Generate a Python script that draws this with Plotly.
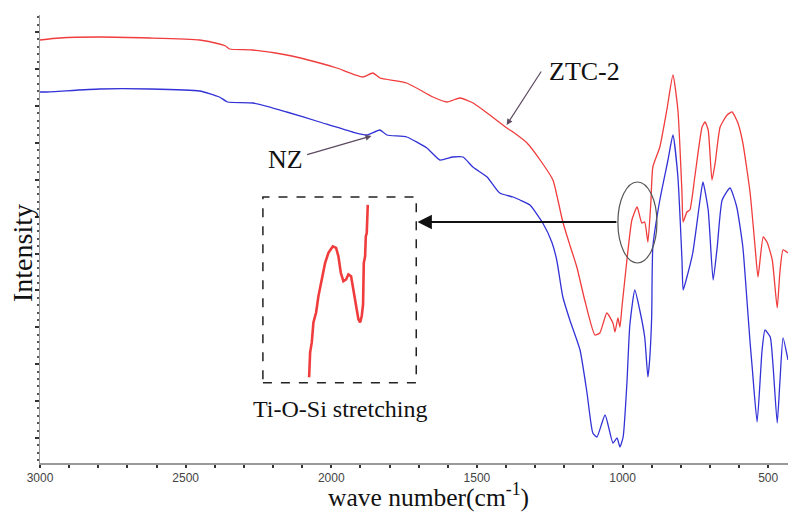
import plotly.graph_objects as go

# ---------------- data ----------------
# ZTC-2 (red) : wave number (cm-1) and intensity (a.u.)
ztc_wn = [3000, 2933, 2795, 2623, 2452, 2384, 2363, 2349, 2269, 2153, 2040, 1981, 1892,
          1857, 1833, 1741, 1651, 1603, 1558, 1513, 1465, 1397, 1376, 1328, 1283, 1239,
          1222, 1205, 1181, 1157, 1130, 1095, 1078, 1054, 1033, 1026, 1016, 1009, 1002,
          985, 968, 950, 934, 924, 913, 903, 896, 872, 848, 827, 810, 796, 792, 779,
          769, 752, 727, 717, 706, 693, 682, 665, 641, 624, 604, 587, 562, 545, 535,
          517, 504, 486, 469, 460, 449, 432]
ztc_int = [423, 425, 426, 425, 423, 419, 417, 414, 413, 408, 400, 395, 386,
           390, 385, 380, 366, 361, 365, 360, 350, 335, 331, 320, 303, 283,
           263, 241, 218, 196, 163, 128, 130, 150, 140, 131, 145, 136, 156,
           203, 243, 256, 240, 241, 221, 260, 296, 316, 353, 388, 353, 270, 241, 251,
           253, 286, 336, 341, 333, 283, 300, 336, 348, 351, 340, 320, 270, 216, 186,
           226, 221, 203, 155, 190, 213, 210]

# NZ (blue)
nz_wn = [3000, 2978, 2795, 2623, 2452, 2384, 2356, 2269, 2153, 2040, 1927, 1878, 1833,
         1809, 1741, 1672, 1627, 1583, 1548, 1514, 1465, 1422, 1376, 1352, 1318, 1274,
         1243, 1226, 1205, 1181, 1146, 1122, 1102, 1088, 1060, 1033, 1019, 1009, 998,
         985, 975, 958, 941, 924, 913, 907, 900, 896, 872, 844, 827, 810, 796, 792,
         779, 759, 734, 724, 706, 689, 675, 658, 631, 608, 587, 573, 562, 555, 538,
         521, 511, 493, 483, 469, 460, 449, 432]
nz_int = [371, 371, 374, 374, 372, 366, 361, 360, 351, 341, 331, 328, 333,
          328, 326, 315, 303, 306, 306, 296, 286, 270, 266, 263, 258, 240,
          221, 203, 166, 143, 113, 70, 30, 26, 48, 20, 25, 16, 26,
          80, 138, 173, 153, 126, 86, 103, 146, 216, 263, 303, 328, 286, 203, 173,
          186, 210, 263, 281, 253, 183, 216, 263, 275, 256, 216, 163, 120, 96, 41,
          113, 133, 126, 96, 40, 80, 125, 103]

# Inset: magnified Ti-O-Si band of ZTC-2
inset_wn = [987.5, 986, 983.6, 981.2, 977.3, 973.9, 969, 964.1, 959.3, 952.9, 948.1,
            944.7, 941.2, 937.4, 933.5, 930.1, 926.2, 922.8, 918.9, 915.5, 913, 910.6,
            908.7, 907.6, 905.7, 904.7, 903.3, 901.8]
inset_int = [195.6, 207.1, 211.7, 220.9, 225.5, 233.1, 240.8, 248.5, 253.1, 256.1, 255.4,
             251.5, 243.9, 240, 240.8, 243.1, 242.3, 236.2, 230.1, 222.4, 220.9, 223.9,
             229.3, 248.5, 251.5, 260.7, 262.3, 275.3]

x_ticks = [3000, 2500, 2000, 1500, 1000, 500]

SERIF = "Liberation Serif, Times New Roman, serif"
SANS = "Liberation Sans, Arial, sans-serif"
RED = "rgb(240,60,60)"
BLUE = "rgb(50,50,215)"

fig = go.Figure()
fig.add_trace(go.Scatter(x=ztc_wn, y=ztc_int, mode="lines", name="ZTC-2",
                         line=dict(color=RED, width=1.3, shape="spline", smoothing=0.5)))
fig.add_trace(go.Scatter(x=nz_wn, y=nz_int, mode="lines", name="NZ",
                         line=dict(color=BLUE, width=1.3, shape="spline", smoothing=0.5)))
fig.add_trace(go.Scatter(x=inset_wn, y=inset_int, mode="lines", xaxis="x2", yaxis="y2",
                         line=dict(color=RED, width=2.6), showlegend=False))

fig.update_layout(
    width=788, height=512,
    margin=dict(l=40, r=0, t=15, b=49),
    paper_bgcolor="white", plot_bgcolor="white",
    showlegend=False,
    xaxis=dict(range=[3000, 432], tickvals=x_ticks, showgrid=False, zeroline=False,
               showline=True, linecolor="#9a9a9a", linewidth=1.5,
               ticks="outside", ticklen=3, tickwidth=2, tickcolor="#333",
               minor=dict(dtick=100, ticks="outside", ticklen=3, tickwidth=2, tickcolor="#333"),
               tickfont=dict(family=SANS, size=12, color="#444")),
    yaxis=dict(range=[0, 448], showticklabels=False, showgrid=False, zeroline=False,
               showline=True, linecolor="#9a9a9a", linewidth=1,
               tick0=25, dtick=36.9, ticks="outside", ticklen=4, tickwidth=1.5, tickcolor="#333",
               minor=dict(tick0=25, dtick=7.38, ticks="outside", ticklen=2, tickwidth=1.5,
                          tickcolor="#555")),
    xaxis2=dict(domain=[0.298, 0.503], range=[1055, 831], visible=False, anchor="y2"),
    yaxis2=dict(domain=[0.179, 0.594], range=[193, 279], visible=False, anchor="x2"),
)

# dashed inset frame
fig.add_shape(type="rect", xref="paper", yref="paper", x0=0.298, x1=0.503, y0=0.179, y1=0.594,
              line=dict(color="#222", width=1.5, dash="dash"), fillcolor="rgba(0,0,0,0)")
# ellipse around the band
fig.add_shape(type="circle", xref="x", yref="y", x0=1016, x1=882, y0=200, y1=281,
              line=dict(color="#555", width=1.2))


def px_x(p):
    return (p - 40) / 748


def px_y(p):
    return (463 - p) / 448


ann = []
# big arrow from band to inset
ann.append(dict(x=1704, y=241, xref="x", yref="y", ax=1016, ay=241, axref="x", ayref="y",
                showarrow=True, arrowhead=2, arrowsize=1.6, arrowwidth=1.8, arrowcolor="#111",
                text=""))
# series label arrows
ann.append(dict(x=1398, y=338, xref="x", yref="y", ax=1276, ay=393, axref="x", ayref="y",
                showarrow=True, arrowhead=2, arrowsize=1, arrowwidth=1.2, arrowcolor="#5c4a60",
                text=""))
ann.append(dict(x=1862, y=327, xref="x", yref="y", ax=2088, ay=308, axref="x", ayref="y",
                showarrow=True, arrowhead=2, arrowsize=1, arrowwidth=1.2, arrowcolor="#5c4a60",
                text=""))
texts = [
    ("ZTC-2", 584, 71, 26, 0),
    ("NZ", 285, 159, 26, 0),
    ("Ti-O-Si stretching", 340, 409, 24, 0),
    ("Intensity", 22, 253, 28, -90),
    ("wave number(cm<sup>-1</sup>)", 428, 496, 25.5, 0),
]
for t, xp, yp, sz, ang in texts:
    ann.append(dict(x=px_x(xp), y=px_y(yp), xref="paper", yref="paper", text=t,
                    textangle=ang, showarrow=False, xanchor="center", yanchor="middle",
                    font=dict(family=SERIF, size=sz, color="#111")))
fig.update_layout(annotations=ann)

fig.write_html("out.html")
